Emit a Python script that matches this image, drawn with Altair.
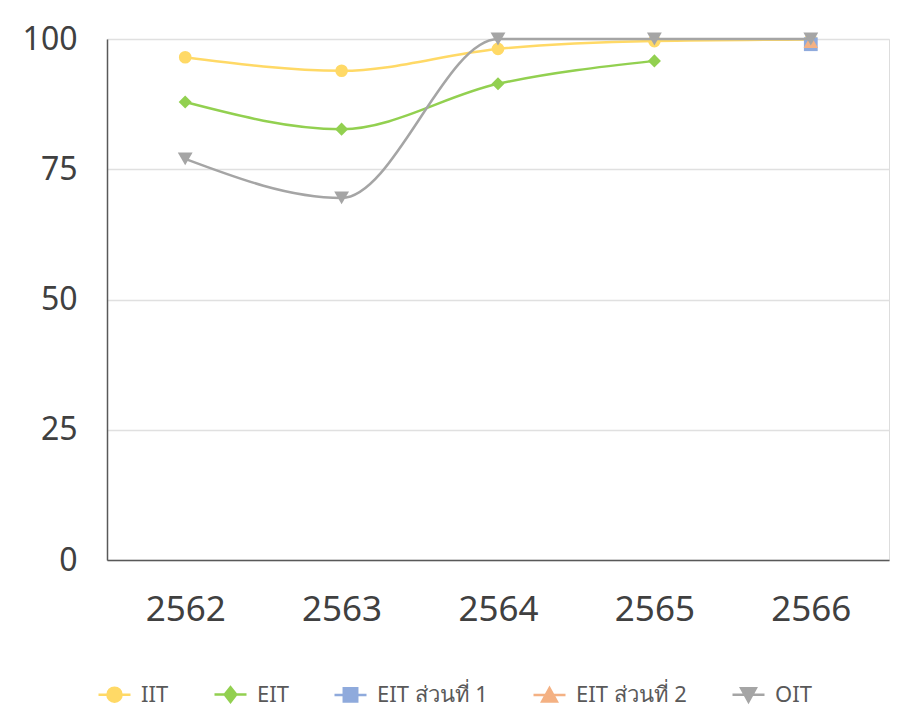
import altair as alt
import pandas as pd

years = ["2562", "2563", "2564", "2565", "2566"]
series_names = ["IIT", "EIT", "EIT ส่วนที่ 1", "EIT ส่วนที่ 2", "OIT"]
iit = [96.5, 93.9, 98.1, 99.6, 99.9]
eit = [87.9, 82.7, 91.4, 95.8, None]
eit1 = [None, None, None, None, 99.0]
eit2 = [None, None, None, None, 99.5]
oit = [77.0, 69.5, 100.0, 100.0, 100.0]
y_ticks = [0, 25, 50, 75, 100]

colors = ["#FFD966", "#92D050", "#8FAADC", "#F4B183", "#A5A5A5"]
marker_shapes = ["circle", "diamond", "square", "triangle-up", "triangle-down"]
marker_sizes = [160, 170, 190, 210, 220]
legend_shapes = [
    "M-1,0H1M-0.44,0A0.44,0.44 0 1,1 0.44,0A0.44,0.44 0 1,1 -0.44,0Z",
    "M-1,0H1M0,-0.46L0.36,0L0,0.46L-0.36,0Z",
    "M-1,0H1M-0.42,-0.42H0.42V0.42H-0.42Z",
    "M-1,0H1M0,-0.44L0.46,0.4H-0.46Z",
    "M-1,0H1M-0.46,-0.4H0.46L0,0.44Z",
]

rows = []
for si, (name, vals) in enumerate(zip(series_names, [iit, eit, eit1, eit2, oit])):
    for yr, v in zip(years, vals):
        if v is not None:
            rows.append({"series": name, "year": yr, "value": v, "sidx": si})
df = pd.DataFrame(rows)

font = "Noto Sans"

x_enc = alt.X("year:N", sort=years, scale=alt.Scale(domain=years),
              axis=alt.Axis(title=None, labelAngle=0, labelFontSize=35, labelColor="#404040",
                            labelFont=font, labelPadding=32, ticks=False, grid=False,
                            domainColor="#595959", domainWidth=1.5))
y_enc = alt.Y("value:Q", scale=alt.Scale(domain=[0, 100], nice=False, zero=True),
              axis=alt.Axis(title=None, values=y_ticks, labelFontSize=32, labelColor="#404040",
                            labelFont=font, labelPadding=30, ticks=False,
                            domainColor="#595959", domainWidth=1.5,
                            gridColor="#e0e0e0", gridWidth=1.5))
color_enc = alt.Color("series:N", scale=alt.Scale(domain=series_names, range=colors), legend=None)

base = alt.Chart(df)

leg = alt.Legend(title=None, orient="none", legendX=-10, legendY=638, direction="horizontal",
                 symbolSize=1024, symbolStrokeWidth=2.5, labelFontSize=22, labelFont=font,
                 labelColor="#595959", labelOffset=9, columnPadding=40, symbolOpacity=1)

# invisible layer that only provides the legend
legend_layer = base.mark_point(filled=True, strokeWidth=2.5, size=0).encode(
    x=x_enc, y=y_enc,
    fill=alt.Fill("series:N", scale=alt.Scale(domain=series_names, range=colors), legend=leg),
    stroke=alt.Stroke("series:N", scale=alt.Scale(domain=series_names, range=colors), legend=leg),
    shape=alt.Shape("series:N", scale=alt.Scale(domain=series_names, range=legend_shapes), legend=leg),
)

layers = [legend_layer]
for si, name in enumerate(series_names):
    sub = base.transform_filter(alt.datum.series == name)
    layers.append(sub.mark_line(interpolate="monotone", strokeWidth=2.5).encode(
        x=x_enc, y=y_enc, color=color_enc))
    layers.append(sub.mark_point(filled=True, opacity=1, size=marker_sizes[si],
                                 shape=marker_shapes[si]).encode(
        x=x_enc, y=y_enc, color=color_enc))

chart = alt.layer(*layers).properties(
    width=782, height=521,
    autosize=alt.AutoSizeParams(type="none"),
    padding={"left": 99, "top": 31, "right": 1, "bottom": 156},
).configure_view(stroke=None).configure(background="white")

chart.save("out.html", embed_options={"renderer": "svg", "actions": False})
